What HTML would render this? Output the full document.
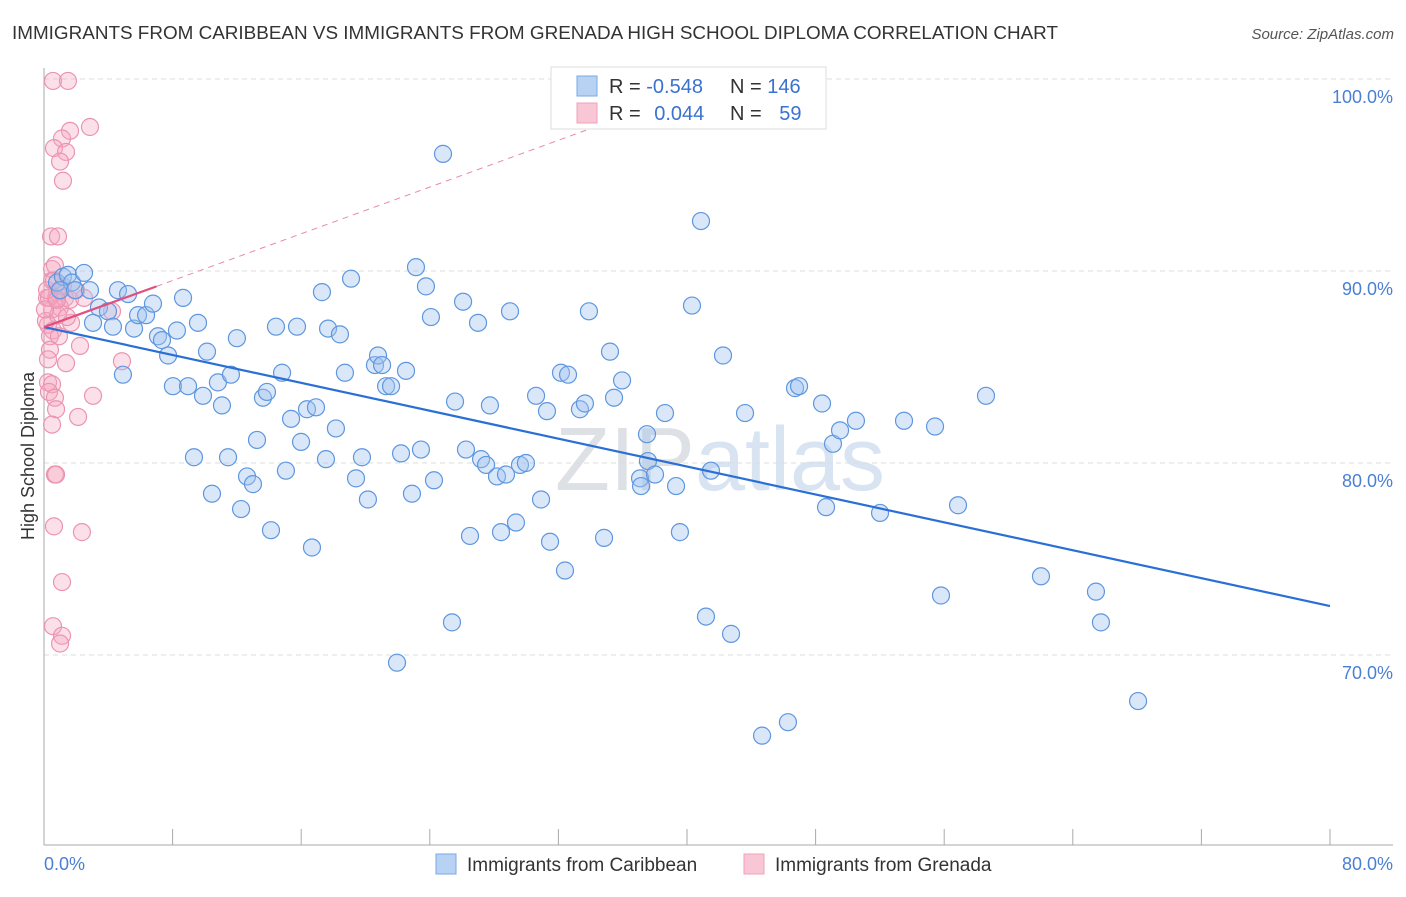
<!DOCTYPE html>
<html><head><meta charset="utf-8"><style>
body{margin:0;background:#fff;font-family:"Liberation Sans",sans-serif}
svg text{font-family:"Liberation Sans",sans-serif}
</style></head><body>
<svg id="chart" width="1406" height="892" viewBox="0 0 1406 892">
<text x="12" y="39" font-size="18" fill="#333" textLength="1046" lengthAdjust="spacingAndGlyphs">IMMIGRANTS FROM CARIBBEAN VS IMMIGRANTS FROM GRENADA HIGH SCHOOL DIPLOMA CORRELATION CHART</text>
<text x="1394" y="39" font-size="15" fill="#555" text-anchor="end" font-style="italic">Source: ZipAtlas.com</text>
<text x="720" y="490" font-size="90" fill="#e2e6ec" text-anchor="middle" font-family="Liberation Serif"><tspan fill="#dde0e4">ZIP</tspan><tspan fill="#d8e4f2" font-family="Liberation Sans">atlas</tspan></text>
<g id="grid"></g>
<g id="axes"></g>
<g id="pts"></g>
<g id="trend"></g>
<text transform="translate(34,456) rotate(-90)" font-size="18" fill="#333" text-anchor="middle">High School Diploma</text>
<g>
<rect x="551" y="67" width="275" height="62" fill="#fff" stroke="#ddd"/>
<rect x="577" y="76" width="20" height="20" fill="#b8d2f4" stroke="#7aa8e4"/>
<rect x="577" y="103" width="20" height="20" fill="#f9c6d6" stroke="#eea0ba"/>
<text x="609" y="93" font-size="20" fill="#333">R = <tspan fill="#3a72d0">-0.548</tspan></text>
<text x="730" y="93" font-size="20" fill="#333">N = <tspan fill="#3a72d0">146</tspan></text>
<text x="609" y="120" font-size="20" fill="#333">R = <tspan fill="#3a72d0" dx="8">0.044</tspan></text>
<text x="730" y="120" font-size="20" fill="#333">N = <tspan fill="#3a72d0" dx="12">59</tspan></text>
</g>
<g>
<rect x="436" y="854" width="20" height="20" fill="#b8d2f4" stroke="#7aa8e4"/>
<text x="467" y="871" font-size="19" fill="#333">Immigrants from Caribbean</text>
<rect x="744" y="854" width="20" height="20" fill="#f9c6d6" stroke="#eea0ba"/>
<text x="775" y="871" font-size="19" fill="#333">Immigrants from Grenada</text>
</g>
</svg>
<script>
const yTicks=[100,90,80,70];
const yTickLabels=["100.0%","90.0%","80.0%","70.0%"];
const xTickLabels=["0.0%","80.0%"];
const blueX=[0.81,1.18,1.49,1.74,2.49,1.0,1.93,2.86,4.6,5.23,3.05,3.42,3.98,4.29,4.91,5.6,5.85,6.35,6.78,7.09,7.34,7.72,8.02,8.27,8.65,8.96,9.33,9.58,9.89,10.14,10.45,10.82,11.07,11.45,11.63,12.0,12.26,12.63,13.0,13.25,13.62,13.87,14.12,14.43,14.81,15.05,15.37,15.74,15.99,16.36,16.67,16.92,17.29,17.54,17.67,18.16,18.41,18.72,19.1,19.41,19.78,20.15,20.59,20.78,21.03,21.28,21.59,21.96,22.21,22.52,22.89,23.14,23.45,23.76,24.07,24.26,24.82,25.38,25.57,26.07,26.25,26.5,27.0,27.19,27.5,27.74,28.18,28.43,28.74,28.99,29.36,29.61,29.98,30.61,30.92,31.29,31.48,32.16,32.41,32.6,33.34,33.65,33.9,34.84,35.21,35.46,35.96,37.08,37.14,37.51,37.57,38.01,38.63,39.56,39.32,40.31,40.87,41.18,41.49,42.24,42.74,43.61,44.67,46.28,46.72,46.97,48.4,48.65,49.08,49.52,50.51,52.01,53.5,55.43,55.8,56.86,58.6,62.02,65.44,65.75,68.06];
const blueY=[89.4,89.7,89.8,89.4,89.9,89.0,89.0,89.0,89.0,88.8,87.3,88.1,87.9,87.1,84.6,87.0,87.7,87.7,88.3,86.6,86.4,85.6,84.0,86.9,88.6,84.0,80.3,87.3,83.5,85.8,78.4,84.2,83.0,80.3,84.6,86.5,77.6,79.3,78.9,81.2,83.4,83.7,76.5,87.1,84.7,79.6,82.3,87.1,81.1,82.8,75.6,82.9,88.9,80.2,87.0,81.8,86.7,84.7,89.6,79.2,80.3,78.1,85.1,85.6,85.1,84.0,84.0,69.6,80.5,84.8,78.4,90.2,80.7,89.2,87.6,79.1,96.1,71.7,83.2,88.4,80.7,76.2,87.3,80.2,79.9,83.0,79.3,76.4,79.4,87.9,76.9,79.9,80.0,83.5,78.1,82.7,75.9,84.7,74.4,84.6,82.8,83.1,87.9,76.1,85.8,83.4,84.3,79.2,78.8,81.5,80.1,79.4,82.6,76.4,78.8,88.2,92.6,72.0,79.6,85.6,71.1,82.6,65.8,66.5,83.9,84.0,83.1,77.7,81.0,81.7,82.2,77.4,82.2,81.9,73.1,77.8,83.5,74.1,73.3,71.7,67.6];
const pinkX=[0.56,1.49,2.86,1.62,1.12,0.62,1.37,1.0,1.18,0.44,0.87,0.5,0.68,0.5,0.81,0.19,0.75,1.31,0.5,1.0,1.62,2.49,4.23,0.25,0.56,1.68,0.37,0.93,2.24,1.37,0.25,0.5,0.31,0.68,3.05,0.75,2.12,0.5,0.68,0.75,0.62,2.36,1.12,0.56,1.12,1.0,0.31,0.19,0.12,0.37,0.87,1.18,0.25,0.62,0.06,1.43,1.99,4.85,0.81];
const pinkY=[99.9,99.9,97.5,97.3,96.9,96.4,96.2,95.7,94.7,91.8,91.8,90.1,90.3,89.5,88.9,88.6,88.6,88.6,88.0,88.1,88.5,88.6,87.9,87.2,86.9,87.3,86.6,86.6,86.1,85.2,84.2,84.1,83.7,83.4,83.5,82.8,82.4,82.0,79.4,79.4,76.7,76.4,73.8,71.5,71.0,70.6,88.6,89.0,87.4,85.9,87.7,89.2,85.4,89.5,88.0,87.6,89.0,85.3,88.5];
const blueTrend=[[0,87.08],[80,72.55]];
const pinkTrendSolid=[[0,87.08],[7,89.2]];
const pinkTrendDash=[[7,89.2],[34.6,97.6]];

const NS="http://www.w3.org/2000/svg";
const X0=44,X1=1330,Y100=79,PX10=19.2;
function sx(v){return X0+(v/80)*(X1-X0);}
function sy(v){return Y100+(100-v)*PX10;}
function mk(tag,attrs,parent){const e=document.createElementNS(NS,tag);for(const k in attrs)e.setAttribute(k,attrs[k]);document.getElementById(parent).appendChild(e);return e;}

yTicks.forEach((t,i)=>{
  const l=mk('line',{x1:X0,x2:1393,y1:sy(t),y2:sy(t),stroke:'#ddd','stroke-dasharray':'5,4'},'grid');
  
  
  const tx=mk('text',{x:1393,y:sy(t)+24,'font-size':18,fill:'#4a7fd4','text-anchor':'end'},'grid');
  tx.textContent=yTickLabels[i];
  
  
});
const ax=mk('line',{x1:X0,x2:X0,y1:68,y2:845,stroke:'#aaa'},'axes');


const bx=mk('line',{x1:X0,x2:1393,y1:845,y2:845,stroke:'#aaa'},'axes');


for(let i=1;i<=10;i++){
  const t=mk('line',{x1:sx(i*8),x2:sx(i*8),y1:829,y2:845,stroke:'#aaa'},'axes');
  
  
}
const xl0=mk('text',{x:X0,y:870,'font-size':18,fill:'#4a7fd4'},'axes');
xl0.textContent=xTickLabels[0];


const xl1=mk('text',{x:1393,y:870,'font-size':18,fill:'#4a7fd4','text-anchor':'end'},'axes');
xl1.textContent=xTickLabels[1];



pinkX.forEach((v,i)=>{
  const c=mk('circle',{cx:sx(v),cy:sy(pinkY[i]),r:8.5,fill:'rgba(245,165,192,0.35)',stroke:'#eb94b2','stroke-width':1.2},'pts');
  
  
});
blueX.forEach((v,i)=>{
  const c=mk('circle',{cx:sx(v),cy:sy(blueY[i]),r:8.5,fill:'rgba(160,196,240,0.4)',stroke:'#5e97df','stroke-width':1.2},'pts');
  
  
});
const bl=mk('line',{x1:sx(blueTrend[0][0]),y1:sy(blueTrend[0][1]),x2:sx(blueTrend[1][0]),y2:sy(blueTrend[1][1]),stroke:'#2a6fd6','stroke-width':2.2},'trend');


const pl=mk('line',{x1:sx(pinkTrendSolid[0][0]),y1:sy(pinkTrendSolid[0][1]),x2:sx(pinkTrendSolid[1][0]),y2:sy(pinkTrendSolid[1][1]),stroke:'#e0507e','stroke-width':2.2},'trend');


const pd=mk('line',{x1:sx(pinkTrendDash[0][0]),y1:sy(pinkTrendDash[0][1]),x2:sx(pinkTrendDash[1][0]),y2:sy(pinkTrendDash[1][1]),stroke:'#e88aa8','stroke-width':1,'stroke-dasharray':'6,5'},'trend');


</script>
</body></html>
